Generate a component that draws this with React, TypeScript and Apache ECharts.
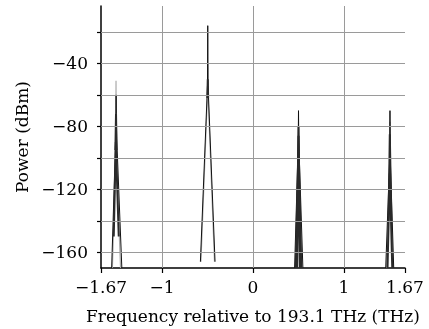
import React, { useEffect, useRef } from "react";
import * as echarts from "echarts";

// frequency (THz, relative to 193.1 THz), power (dBm)
const blackPeaks: [number, number][][] = [
  [[-1.553, -170], [-1.509, -88], [-1.506, -72], [-1.504, -60], [-1.502, -72], [-1.497, -88], [-1.441, -170]],
  [[-0.578, -166], [-0.5, -54], [-0.497, -16], [-0.494, -54], [-0.417, -166]],
  [[0.457, -170], [0.497, -90], [0.5, -70], [0.503, -90], [0.548, -170]],
  [[1.458, -170], [1.502, -100], [1.505, -70], [1.508, -100], [1.546, -170]],
];
const darkPeaks: [number, number][][] = [
  [[-1.512, -95], [-1.505, -72], [-1.499, -95]],
  [[-1.53, -150], [-1.507, -90], [-1.503, -90], [-1.475, -150]],
  [[-0.501, -62], [-0.497, -50], [-0.493, -62]],
  [[0.47, -170], [0.496, -100], [0.5, -80], [0.504, -100], [0.53, -170]],
  [[0.478, -170], [0.497, -105], [0.5, -86], [0.503, -105], [0.522, -170]],
  [[0.485, -170], [0.499, -95], [0.501, -95], [0.515, -170]],
  [[1.49, -140], [1.503, -85], [1.507, -85], [1.52, -140]],
  [[1.478, -170], [1.503, -110], [1.507, -110], [1.53, -170]],
];
const grayPeaks: [number, number][][] = [
  [[-1.545, -170], [-1.508, -100], [-1.505, -51], [-1.502, -100], [-1.455, -170]],
  [[-0.572, -166], [-0.499, -58], [-0.497, -40], [-0.495, -58], [-0.423, -166]],
  [[0.465, -170], [0.492, -130], [0.498, -110], [0.505, -130], [0.535, -170]],
  [[1.468, -170], [1.5, -110], [1.505, -77], [1.51, -110], [1.538, -170]],
];

const xTicks = [-1.67, -1, 0, 1, 1.67];
const xGrid = [-1, 0, 1];
const yTicks = [-160, -140, -120, -100, -80, -60, -40, -20];
const yLabels = [-160, -120, -80, -40];

const fmt = (v: number) => String(v).replace("-", "\u2212");
const FONT = "DejaVu Serif";

export default function App() {
  const ref = useRef<HTMLDivElement>(null);
  useEffect(() => {
    document.body.style.margin = "0";
    const chart = echarts.init(ref.current!, null, { renderer: "svg" });
    const mk = (segs: [number, number][][], color: string, width: number, z: number) =>
      segs.map((d) => ({
        type: "line",
        data: d,
        symbol: "none",
        silent: true,
        z,
        lineStyle: { color, width },
      }));
    chart.setOption({
      animation: false,
      grid: { left: 101, right: 24, top: 6, bottom: 61 },
      xAxis: {
        type: "value",
        min: -1.67,
        max: 1.67,
        name: "Frequency relative to 193.1 THz (THz)",
        nameLocation: "middle",
        nameGap: 39,
        nameTextStyle: { fontFamily: FONT, fontSize: 17, color: "#000" },
        axisLine: { onZero: false, lineStyle: { color: "#000", width: 1.5 } },
        axisTick: { show: true, length: 5, customValues: xTicks, lineStyle: { color: "#000", width: 1.2 } },
        axisLabel: { customValues: xTicks, formatter: fmt, fontFamily: FONT, fontSize: 17, color: "#000", margin: 10 },
        splitLine: { show: false },
      },
      yAxis: {
        type: "value",
        min: -170,
        max: -3.5,
        name: "Power (dBm)",
        nameLocation: "middle",
        nameGap: 69,
        nameTextStyle: { fontFamily: FONT, fontSize: 17, color: "#000" },
        axisLine: { onZero: false, lineStyle: { color: "#000", width: 1.5 } },
        axisTick: { show: true, length: 4, customValues: yTicks, lineStyle: { color: "#000", width: 1.2 } },
        axisLabel: { customValues: yLabels, formatter: fmt, fontFamily: FONT, fontSize: 17, color: "#000", margin: 13 },
        splitLine: { show: false },
      },
      series: [
        {
          type: "line",
          data: [],
          silent: true,
          z: 1,
          markLine: {
            silent: true,
            symbol: "none",
            label: { show: false },
            lineStyle: { type: "solid", color: "#9a9a9a", width: 1 },
            data: [...yTicks.map((v) => ({ yAxis: v })), ...xGrid.map((v) => ({ xAxis: v }))],
          },
        },
        ...mk(grayPeaks, "#aaa", 1.2, 2),
        ...mk(blackPeaks, "#111", 1, 3),
        ...mk(darkPeaks, "#2a2a2a", 2, 4),
      ],
    });
    return () => chart.dispose();
  }, []);
  return <div ref={ref} style={{ position: "fixed", left: 0, top: 0, width: 429, height: 329 }} />;
}
